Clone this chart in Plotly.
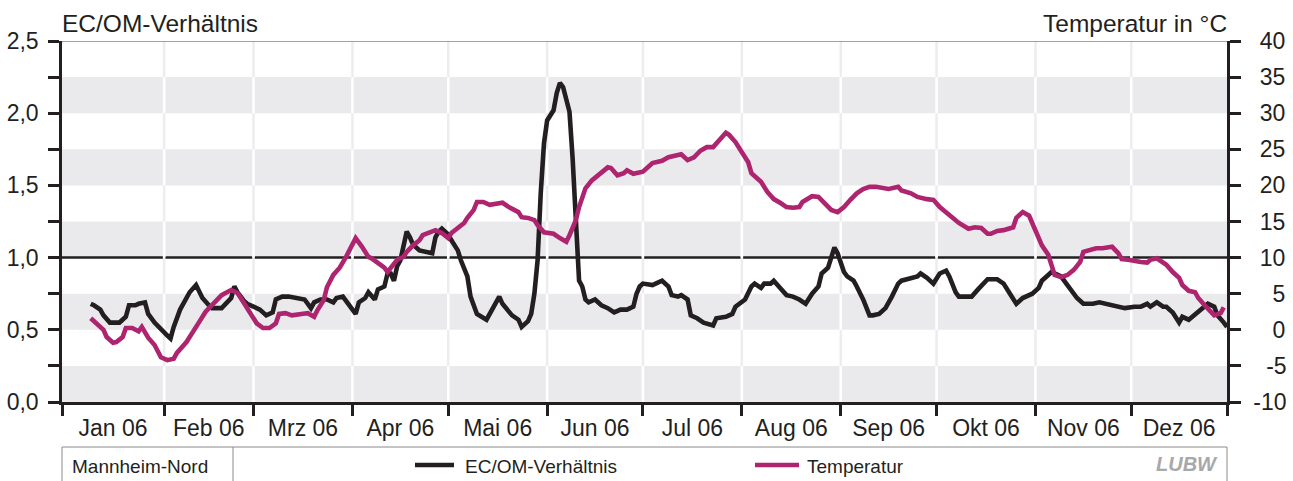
import numpy as np
import pandas as pd
import plotly.graph_objects as go

# ---- data: day of year 2006 and daily running values ----
ec_day = [9, 10, 12, 13, 15, 17, 18, 20, 21, 23, 24, 26, 27, 29, 31, 33, 34, 35, 37, 39,
          40, 42, 43, 44, 46, 47, 50, 52, 53, 54, 55, 57, 58, 60, 62, 64, 66, 67, 69, 71,
          74, 76, 78, 79, 81, 83, 85, 86, 88, 90, 92, 93, 95, 96, 98, 99, 101, 102, 103, 104,
          105, 106, 107, 108, 109, 110, 112, 114, 116, 117, 118, 119, 121, 122, 124, 125, 127, 128, 129, 130,
          133, 134, 135, 136, 137, 138, 140, 141, 143, 144, 146, 147, 148, 149, 150, 151, 152, 154, 155, 156,
          157, 158, 159, 160, 161, 162, 163, 164, 165, 167, 169, 171, 173, 175, 177, 179, 180, 181, 182, 185,
          186, 188, 190, 191, 193, 194, 196, 197, 199, 201, 204, 205, 208, 210, 211, 214, 216, 217, 219, 220,
          222, 223, 225, 227, 229, 231, 233, 235, 237, 238, 240, 241, 242, 243, 245, 246, 248, 249, 251, 253,
          254, 256, 258, 260, 262, 263, 266, 268, 269, 271, 273, 275, 277, 278, 280, 281, 284, 285, 287, 289,
          290, 293, 295, 297, 299, 301, 302, 304, 306, 307, 309, 310, 312, 313, 315, 317, 318, 320, 321, 323,
          325, 327, 329, 331, 333, 336, 338, 340, 341, 343, 345, 346, 348, 350, 351, 353, 354, 356, 357, 359,
          361, 362, 364, 365]
ec_ratio = [0.68, 0.67, 0.64, 0.60, 0.55, 0.55, 0.55, 0.59, 0.67, 0.67, 0.68, 0.69, 0.61, 0.55, 0.50, 0.46, 0.44, 0.52, 0.64, 0.73,
            0.76, 0.81, 0.76, 0.72, 0.67, 0.65, 0.65, 0.69, 0.72, 0.80, 0.76, 0.70, 0.68, 0.66, 0.64, 0.60, 0.62, 0.71, 0.73, 0.73,
            0.72, 0.71, 0.65, 0.69, 0.71, 0.71, 0.69, 0.72, 0.73, 0.67, 0.61, 0.69, 0.72, 0.76, 0.71, 0.78, 0.80, 0.89, 0.89, 0.84,
            0.94, 0.98, 1.07, 1.18, 1.14, 1.09, 1.05, 1.04, 1.03, 1.14, 1.18, 1.20, 1.16, 1.12, 1.05, 0.98, 0.87, 0.73, 0.66, 0.61,
            0.57, 0.61, 0.64, 0.68, 0.73, 0.68, 0.62, 0.60, 0.57, 0.52, 0.56, 0.61, 0.75, 0.98, 1.45, 1.79, 1.95, 2.02, 2.14, 2.21,
            2.18, 2.10, 2.01, 1.68, 1.21, 0.84, 0.80, 0.71, 0.69, 0.71, 0.67, 0.65, 0.62, 0.64, 0.64, 0.66, 0.75, 0.80, 0.82, 0.81,
            0.82, 0.84, 0.80, 0.74, 0.73, 0.74, 0.71, 0.60, 0.58, 0.55, 0.53, 0.58, 0.59, 0.61, 0.66, 0.71, 0.80, 0.82, 0.79, 0.82,
            0.82, 0.84, 0.79, 0.74, 0.73, 0.71, 0.68, 0.75, 0.80, 0.89, 0.93, 1.00, 1.07, 1.03, 0.90, 0.87, 0.84, 0.80, 0.71, 0.60,
            0.60, 0.61, 0.65, 0.73, 0.82, 0.84, 0.86, 0.87, 0.89, 0.86, 0.82, 0.89, 0.91, 0.87, 0.76, 0.73, 0.73, 0.73, 0.78, 0.83,
            0.85, 0.85, 0.82, 0.75, 0.68, 0.72, 0.73, 0.75, 0.79, 0.84, 0.88, 0.90, 0.88, 0.87, 0.81, 0.75, 0.72, 0.68, 0.68, 0.68,
            0.69, 0.68, 0.67, 0.66, 0.65, 0.66, 0.66, 0.68, 0.66, 0.69, 0.66, 0.66, 0.62, 0.55, 0.59, 0.57, 0.59, 0.62, 0.65, 0.68,
            0.66, 0.60, 0.55, 0.52]

temp_day = [9, 11, 13, 14, 16, 17, 19, 20, 22, 24, 25, 27, 29, 31, 33, 35, 36, 39, 41, 43,
            45, 48, 50, 53, 55, 57, 59, 61, 63, 65, 67, 68, 70, 72, 75, 77, 79, 80, 82, 83,
            85, 87, 89, 91, 92, 94, 96, 97, 99, 101, 102, 104, 105, 107, 108, 110, 112, 113, 115, 117,
            119, 121, 122, 124, 126, 127, 129, 130, 132, 134, 136, 138, 140, 143, 144, 146, 148, 149, 151, 152,
            154, 156, 158, 159, 161, 162, 164, 166, 169, 171, 172, 174, 176, 177, 179, 180, 182, 185, 186, 188,
            190, 194, 196, 198, 200, 202, 204, 206, 208, 209, 211, 213, 215, 216, 219, 221, 223, 225, 227, 229,
            231, 232, 235, 237, 239, 241, 243, 245, 247, 249, 251, 253, 255, 257, 259, 262, 263, 266, 268, 271,
            273, 275, 277, 279, 281, 284, 286, 288, 290, 291, 293, 295, 298, 299, 301, 303, 304, 306, 307, 309,
            310, 311, 313, 315, 317, 319, 320, 322, 324, 326, 329, 331, 332, 334, 336, 338, 340, 341, 343, 345,
            346, 348, 350, 351, 353, 355, 356, 358, 360, 361, 363, 364]
temp_c = [1.6, 0.7, 0.0, -1.0, -1.8, -1.7, -1.0, 0.25, 0.25, -0.2, 0.4, -1.1, -2.1, -3.8, -4.2, -4.0, -3.2, -1.7, -0.4, 1.1,
          2.5, 3.85, 4.8, 5.5, 5.1, 3.7, 2.3, 0.9, 0.25, 0.25, 0.9, 2.2, 2.3, 2.0, 2.2, 2.3, 1.8, 2.7, 4.1, 5.9,
          7.6, 8.6, 10.1, 11.7, 12.7, 11.5, 10.1, 9.9, 9.25, 8.6, 8.0, 9.0, 9.7, 10.1, 10.8, 11.7, 12.4, 13.1, 13.5, 13.8,
          13.4, 12.7, 13.4, 14.1, 14.8, 15.5, 16.6, 17.7, 17.7, 17.3, 17.4, 17.6, 17.0, 16.3, 15.6, 15.5, 15.2, 14.5, 13.5, 13.4,
          13.3, 12.7, 12.2, 13.1, 15.2, 17.0, 19.6, 20.7, 21.9, 22.5, 22.4, 21.4, 21.7, 22.1, 21.6, 21.7, 21.9, 23.1, 23.2, 23.4,
          23.9, 24.3, 23.5, 23.9, 24.8, 25.3, 25.3, 26.3, 27.3, 27.0, 26.0, 24.6, 23.2, 21.7, 20.5, 19.1, 18.1, 17.6, 17.0, 16.9,
          17.0, 17.7, 18.5, 18.4, 17.6, 16.6, 16.3, 17.0, 18.0, 18.9, 19.5, 19.8, 19.8, 19.6, 19.5, 19.8, 19.3, 18.9, 18.4, 18.1,
          18.0, 17.0, 16.2, 15.6, 14.8, 14.0, 14.2, 14.1, 13.3, 13.3, 13.7, 13.8, 14.2, 15.5, 16.3, 15.8, 14.8, 12.9, 11.7, 10.4,
          8.7, 7.6, 7.3, 7.6, 8.3, 9.4, 10.8, 11.1, 11.3, 11.3, 11.5, 10.6, 9.8, 9.7, 9.5, 9.4, 9.3, 9.7, 9.9, 9.4,
          9.0, 8.0, 7.2, 6.2, 5.4, 5.2, 4.4, 3.4, 2.5, 2.0, 2.3, 3.1]

month_labels = ["Jan 06", "Feb 06", "Mrz 06", "Apr 06", "Mai 06", "Jun 06",
                "Jul 06", "Aug 06", "Sep 06", "Okt 06", "Nov 06", "Dez 06"]
temp_ticks = [-10, -5, 0, 5, 10, 15, 20, 25, 30, 35, 40]
ratio_ticks = [0.0, 0.5, 1.0, 1.5, 2.0, 2.5]
station = "Mannheim-Nord"
ec_name = "EC/OM-Verhältnis"
temp_name = "Temperatur"

# ---- styling ----
INK = "#231F20"
MAGENTA = "#AE246F"
BAND = "#EAEAEC"
GRID = "#EDEDEF"
FONT = "Liberation Sans, Arial, sans-serif"

W, H = 1293, 481
ML, MR, MT, MB = 62, 66, 41, 79
PW, PH = W - ML - MR, H - MT - MB


def fx(px):
    return (px - ML) / PW


def fy(py):
    return (H - MB - py) / PH


def right_aligned(v):
    # pad right-axis labels so that they line up on their right edge
    s = str(v)
    pad = ""
    if v >= 0:
        pad += "\u2008"          # width of the missing minus sign
        if len(s) == 1:
            pad += "\u2007"      # one figure width
    elif len(s) == 2:
        pad += "\u2007"
    return pad + s


year0 = pd.Timestamp("2006-01-01")
ec_x = year0 + pd.to_timedelta(np.asarray(ec_day) - 1, unit="D")
temp_x = year0 + pd.to_timedelta(np.asarray(temp_day) - 1, unit="D")

x_start = pd.Timestamp("2005-12-31")
x_end = pd.Timestamp("2006-12-31")
month_starts = list(pd.date_range("2006-02-01", "2006-12-01", freq="MS"))
edges = [x_start] + month_starts + [x_end]
month_mid = [edges[i] + (edges[i + 1] - edges[i]) / 2 for i in range(12)]

fig = go.Figure()
fig.add_trace(go.Scatter(x=ec_x, y=ec_ratio, name=ec_name, mode="lines",
                         line=dict(color=INK, width=4.6), xaxis="x", yaxis="y",
                         showlegend=False))
fig.add_trace(go.Scatter(x=temp_x, y=temp_c, name=temp_name, mode="lines",
                         line=dict(color=MAGENTA, width=4.6), xaxis="x2", yaxis="y2",
                         showlegend=False))

shapes = []
# alternating grey bands (lower half of every 0.5 step)
band_lo = [0.0, 0.5, 1.0, 1.5, 2.0]
for b in band_lo:
    shapes.append(dict(type="rect", xref="x domain", yref="y", x0=0, x1=1, y0=b, y1=b + 0.25,
                       fillcolor=BAND, line=dict(width=0), layer="below"))
# month gridlines: light grey on white, white across the bands
for m in month_starts:
    shapes.append(dict(type="line", xref="x", yref="y", x0=m, x1=m, y0=0, y1=2.5,
                       line=dict(color=GRID, width=2.5), layer="below"))
    for b in band_lo:
        shapes.append(dict(type="line", xref="x", yref="y", x0=m, x1=m, y0=b, y1=b + 0.25,
                           line=dict(color="white", width=2.5), layer="below"))
# reference line at ratio 1
shapes.append(dict(type="line", xref="x domain", yref="y", x0=0, x1=1, y0=1.0, y1=1.0,
                   line=dict(color=INK, width=2.5), layer="below"))
# top frame line
shapes.append(dict(type="line", xref="x domain", yref="y", x0=0, x1=1, y0=2.5, y1=2.5,
                   line=dict(color="#4a4a4a", width=1.2)))

# legend box below the chart
shapes.append(dict(type="rect", xref="paper", yref="paper", x0=0, x1=1, y0=fy(447), y1=fy(495),
                   line=dict(color="#8a8a8a", width=1)))
shapes.append(dict(type="line", xref="paper", yref="paper", x0=fx(233), x1=fx(233), y0=fy(447), y1=fy(495),
                   line=dict(color="#8a8a8a", width=1)))
shapes.append(dict(type="line", xref="paper", yref="paper", x0=fx(415), x1=fx(454), y0=fy(465), y1=fy(465),
                   line=dict(color=INK, width=4.5)))
shapes.append(dict(type="line", xref="paper", yref="paper", x0=fx(755), x1=fx(799), y0=fy(465), y1=fy(465),
                   line=dict(color=MAGENTA, width=4.5)))

annotations = [
    dict(text="EC/OM-Verhältnis", xref="paper", yref="paper", x=fx(60), y=fy(23),
         xanchor="left", yanchor="middle", showarrow=False, font=dict(size=24.5, color=INK)),
    dict(text="Temperatur in °C", xref="paper", yref="paper", x=fx(1229), y=fy(23),
         xanchor="right", yanchor="middle", showarrow=False, font=dict(size=24.5, color=INK)),
    dict(text=station, xref="paper", yref="paper", x=fx(70), y=fy(466),
         xanchor="left", yanchor="middle", showarrow=False, font=dict(size=19, color=INK)),
    dict(text=ec_name, xref="paper", yref="paper", x=fx(463), y=fy(466),
         xanchor="left", yanchor="middle", showarrow=False, font=dict(size=19, color=INK)),
    dict(text=temp_name, xref="paper", yref="paper", x=fx(805), y=fy(466),
         xanchor="left", yanchor="middle", showarrow=False, font=dict(size=19, color=INK)),
    dict(text="<b><i>LUBW</i></b>", xref="paper", yref="paper", x=fx(1220), y=fy(464),
         xanchor="right", yanchor="middle", showarrow=False, font=dict(size=20, color="#a8a8aa")),
]

axis_common = dict(showgrid=False, zeroline=False, showline=True, linecolor=INK, linewidth=2.5,
                   ticks="outside", ticklen=11, tickwidth=2.5, tickcolor=INK, automargin=False,
                   tickfont=dict(size=23, color=INK, family=FONT))

fig.update_layout(
    width=W, height=H,
    margin=dict(l=ML, r=MR, t=MT, b=MB, pad=0, autoexpand=False),
    paper_bgcolor="white", plot_bgcolor="white",
    font=dict(family=FONT, color=INK),
    separators=", ",
    shapes=shapes, annotations=annotations,
    xaxis=dict(type="date", range=[x_start, x_end], tickmode="array", tickvals=edges,
               showticklabels=False, **axis_common),
    xaxis2=dict(type="date", range=[x_start, x_end], overlaying="x", anchor="y2", side="bottom",
                tickmode="array", tickvals=month_mid, ticktext=month_labels, automargin=False,
                showgrid=False, zeroline=False, showline=False, ticks="", ticklabelstandoff=10,
                tickfont=dict(size=23, color=INK, family=FONT)),
    yaxis=dict(range=[0, 2.5], tickmode="array", tickvals=ratio_ticks,
               ticktext=[f"{v:.1f}".replace(".", ",") for v in ratio_ticks],
               ticklabelstandoff=5,
               minor=dict(tickmode="array", tickvals=[0.25, 0.75, 1.25, 1.75, 2.25],
                          ticks="outside", ticklen=11, tickwidth=2.5, tickcolor=INK, showgrid=False),
               **axis_common),
    yaxis2=dict(range=[-10, 40], overlaying="y", anchor="x2", side="right",
                tickmode="array", tickvals=temp_ticks, ticktext=[right_aligned(v) for v in temp_ticks],
                ticklabelstandoff=8, **axis_common),
)

fig.write_html("out.html")
